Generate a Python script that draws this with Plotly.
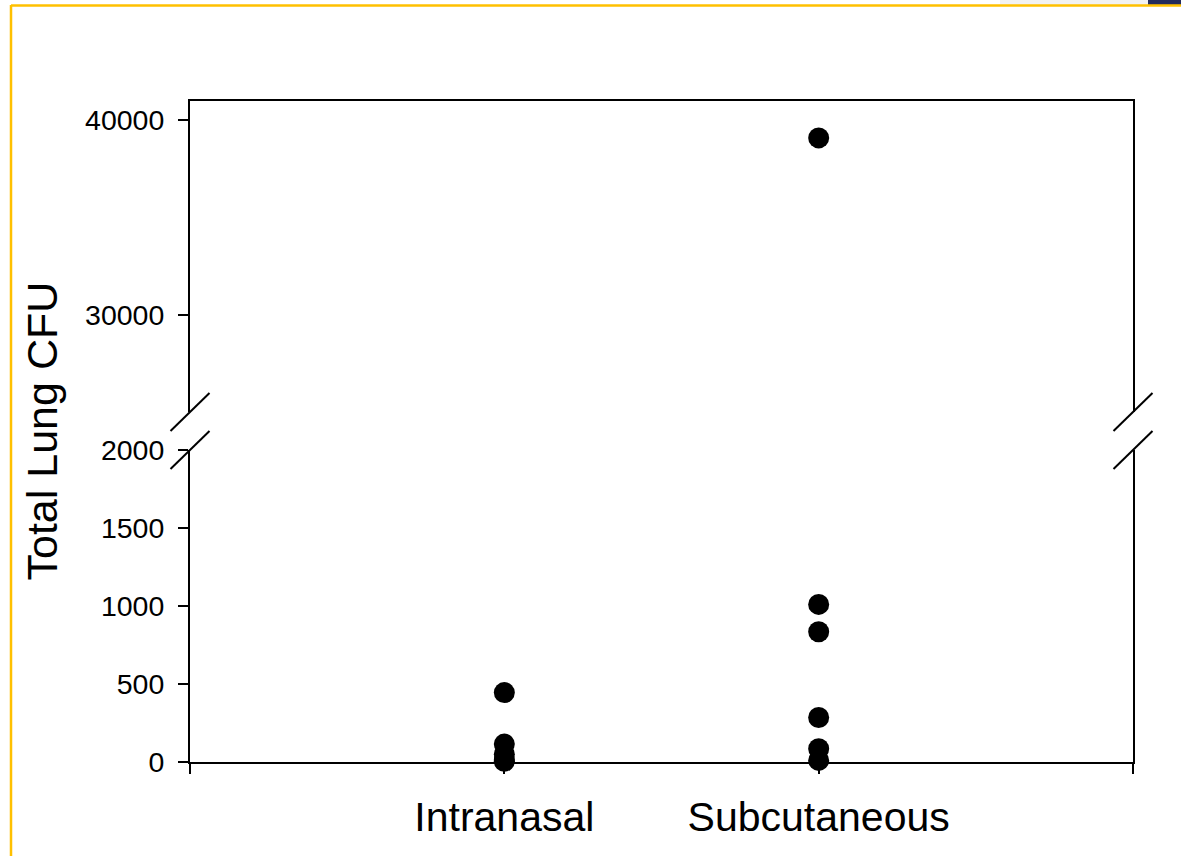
import plotly.graph_objects as go

categories = ["Intranasal", "Subcutaneous"]
cat_pos = [1, 2]
intranasal_cfu = [445, 115, 50, 15, 5]
subcutaneous_cfu = [39100, 1010, 835, 285, 85, 10]
lower_ticks = [0, 500, 1000, 1500, 2000]
upper_ticks = [30000, 40000]
lower_range = [0, 2000]
upper_range = [25000, 41000]
y_title = "Total Lung CFU"

FONT = "Arial, Liberation Sans, sans-serif"

# geometry in pixels (for decorative shapes only)
W, H = 1181, 856
L, R, T, B = 190, 48, 101, 94
pw, ph = W - L - R, H - T - B
y_lo_top = 0.472
y_hi_bot = 0.5295

def px(xp):
    return (xp - L) / pw

def py(yp):
    return (H - B - yp) / ph

fig = go.Figure()

series = [intranasal_cfu, subcutaneous_cfu]
for pos, vals in zip(cat_pos, series):
    low = [v for v in vals if v <= lower_range[1]]
    high = [v for v in vals if v >= upper_range[0]]
    if low:
        fig.add_trace(go.Scatter(x=[pos] * len(low), y=low, mode="markers",
                                 marker=dict(size=21, color="black"),
                                 xaxis="x", yaxis="y", cliponaxis=False,
                                 showlegend=False))
    if high:
        fig.add_trace(go.Scatter(x=[pos] * len(high), y=high, mode="markers",
                                 marker=dict(size=21, color="black"),
                                 xaxis="x2", yaxis="y2", cliponaxis=False,
                                 showlegend=False))

axis_common = dict(showgrid=False, zeroline=False, showline=True,
                   linecolor="black", linewidth=2, ticks="outside",
                   ticklen=10, tickwidth=1.5, tickcolor="black")

fig.update_layout(
    width=W, height=H,
    margin=dict(l=L, r=R, t=T, b=B),
    paper_bgcolor="white", plot_bgcolor="white",
    font=dict(family=FONT, color="black"),
    xaxis=dict(domain=[0, 1], anchor="y", range=[0, 3],
               tickvals=[0] + cat_pos + [3],
               ticktext=[""] + categories + [""],
               tickfont=dict(size=41, family=FONT, color="black"),
               ticklabelstandoff=8,
               **axis_common),
    yaxis=dict(domain=[0, y_lo_top], anchor="x", range=lower_range,
               tickvals=lower_ticks, ticktext=[str(v) for v in lower_ticks],
               tickfont=dict(size=28.5, family=FONT, color="black"),
               ticklabelstandoff=8, mirror=True,
               **axis_common),
    xaxis2=dict(domain=[0, 1], anchor="y2", range=[0, 3], matches="x",
                side="top", showgrid=False, zeroline=False, showline=True,
                linecolor="black", linewidth=2, ticks="",
                showticklabels=False),
    yaxis2=dict(domain=[y_hi_bot, 1], anchor="x2", range=upper_range,
                tickvals=upper_ticks, ticktext=[str(v) for v in upper_ticks],
                tickfont=dict(size=28.5, family=FONT, color="black"),
                ticklabelstandoff=8, mirror=True,
                **axis_common),
)

fig.add_annotation(text=y_title, textangle=-90, xref="paper", yref="paper",
                   x=px(41), y=0.5, xanchor="center", yanchor="middle",
                   showarrow=False, font=dict(size=43, family=FONT, color="black"))

shapes = []
# axis break marks
for xc in (L, W - R):
    for yc in (412, 450):
        shapes.append(dict(type="line", xref="paper", yref="paper",
                           x0=px(xc - 19.5), y0=py(yc + 19),
                           x1=px(xc + 19.5), y1=py(yc - 19),
                           line=dict(color="black", width=2)))
# slide frame decorations
shapes.append(dict(type="rect", xref="paper", yref="paper",
                   x0=px(1000), x1=px(1148), y0=py(5), y1=py(0),
                   fillcolor="#F2F2F2", line=dict(width=0), layer="below"))
shapes.append(dict(type="rect", xref="paper", yref="paper",
                   x0=px(1148), x1=px(1181), y0=py(5), y1=py(0),
                   fillcolor="#222A5C", line=dict(width=0)))
shapes.append(dict(type="line", xref="paper", yref="paper",
                   x0=px(11), x1=px(1181), y0=py(5.5), y1=py(5.5),
                   line=dict(color="#FFC000", width=2.5)))
shapes.append(dict(type="line", xref="paper", yref="paper",
                   x0=px(11), x1=px(11), y0=py(5), y1=py(856),
                   line=dict(color="#FFC000", width=2.5)))
fig.update_layout(shapes=shapes)

fig.write_html("out.html", config={"displayModeBar": False},
               post_script="document.body.style.margin='0';document.body.style.overflow='hidden';")
